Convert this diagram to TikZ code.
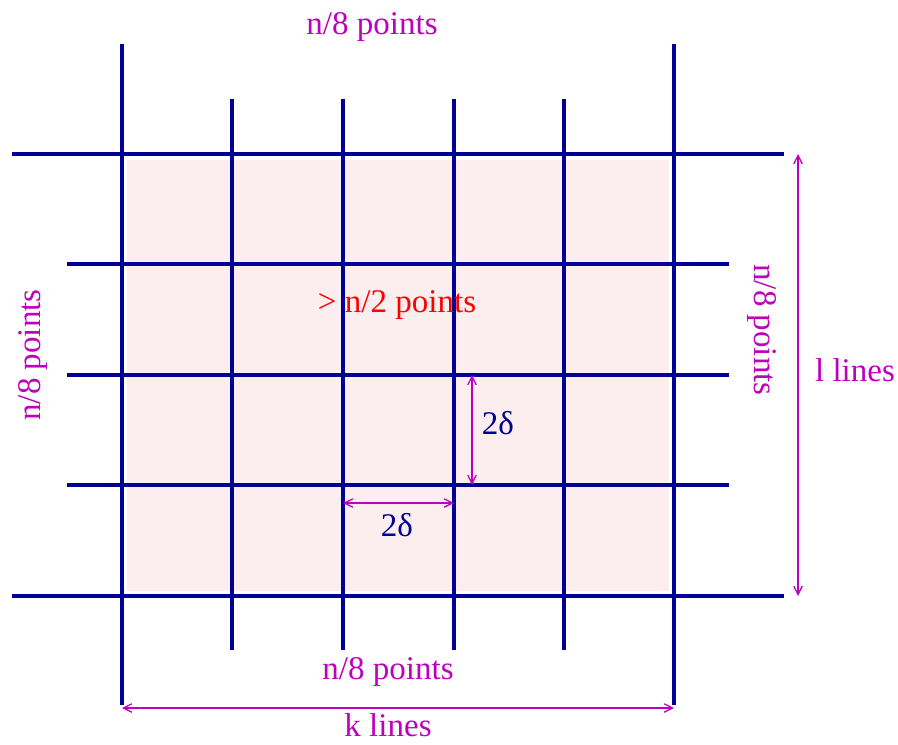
\documentclass[tikz,border=0pt]{standalone}
\usepackage{fontspec}
\setmainfont{Liberation Serif}
\usetikzlibrary{arrows.meta}
\definecolor{gridblue}{RGB}{0,0,150}
\definecolor{dimmag}{RGB}{190,0,190}
\definecolor{areapink}{RGB}{252,238,238}

\begin{document}
\begin{tikzpicture}[x=0.025cm, y=-0.025cm, >={Straight Barb[length=6pt,width=6pt]}]
\tikzstyle{gridline} = [draw=gridblue, line width=2.5pt]
\tikzstyle{dimline} = [draw=dimmag, line width=0.9pt, <->]
\tikzstyle{maglabel} = [text=dimmag, font=\fontsize{23.5}{27}\selectfont, inner sep=0pt]
\tikzstyle{bluelabel} = [text=gridblue, font=\fontsize{23.5}{27}\selectfont, inner sep=0pt]

\useasboundingbox (0,0) rectangle (898,744);

% shaded region
\fill [areapink] (127,160) rectangle (669,591);

% vertical lines
\foreach \x in {122,674} \draw [gridline] (\x,44) -- (\x,705);
\foreach \x in {232,343,454,564} \draw [gridline] (\x,99) -- (\x,650);
% horizontal lines
\foreach \y in {154,596} \draw [gridline] (12,\y) -- (784,\y);
\foreach \y in {264,375,485} \draw [gridline] (67,\y) -- (729,\y);

% end points of the dimension arrows
\coordinate (kL) at (122,708);
\coordinate (kR) at (674,708);
\coordinate (lT) at (798,154);
\coordinate (lB) at (798,596);
\coordinate (dT) at (472,375);
\coordinate (dB) at (472,485);
\coordinate (dL) at (343,503);
\coordinate (dR) at (454,503);

\path [dimline] (kL) -- (kR);
\path [dimline] (lT) -- (lB);
\path [dimline] (dT) -- (dB);
\path [dimline] (dL) -- (dR);

\node [maglabel] (top) at (372,27) {n/8 points};
\node [maglabel] (bottom) at (388,672) {n/8 points};
\node [maglabel, rotate=90] (left) at (33,355) {n/8 points};
\node [maglabel, rotate=-90] (right) at (762,330) {n/8 points};
\node [maglabel] (klines) at (388,725) {k lines};
\node [maglabel] (llines) at (855,370) {l lines};
\node [text=red, font=\fontsize{23.5}{27}\selectfont, inner sep=0pt] (half) at (397,305) {> n/2 points};
\node [bluelabel] (dv) at (498,423) {2δ};
\node [bluelabel] (dh) at (397,525) {2δ};
\end{tikzpicture}
\end{document}
